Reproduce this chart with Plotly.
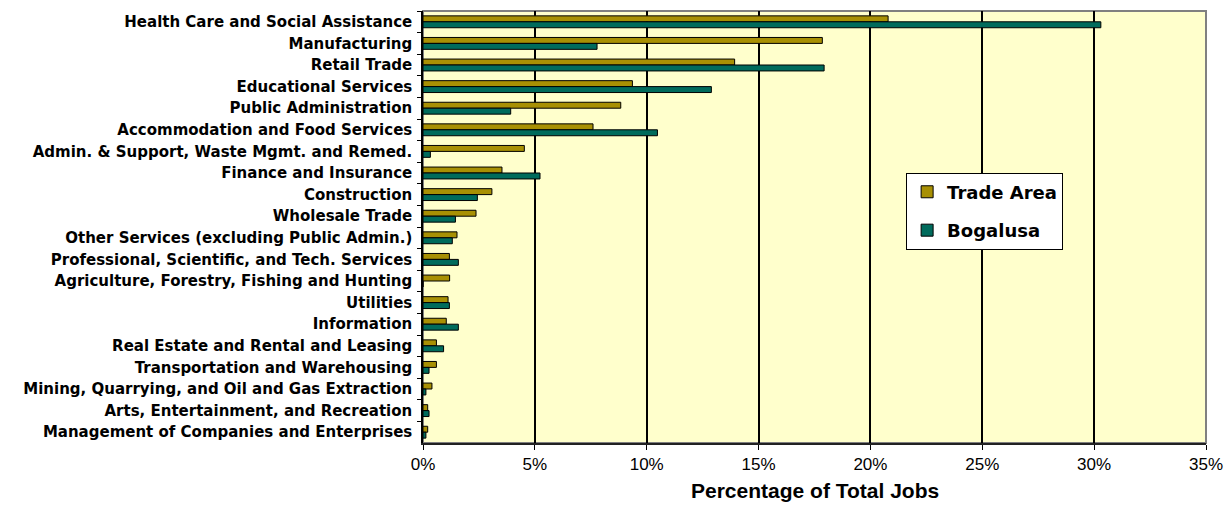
import plotly.graph_objects as go

categories = [
    "Health Care and Social Assistance",
    "Manufacturing",
    "Retail Trade",
    "Educational Services",
    "Public Administration",
    "Accommodation and Food Services",
    "Admin. & Support, Waste Mgmt. and Remed.",
    "Finance and Insurance",
    "Construction",
    "Wholesale Trade",
    "Other Services (excluding Public Admin.)",
    "Professional, Scientific, and Tech. Services",
    "Agriculture, Forestry, Fishing and Hunting",
    "Utilities",
    "Information",
    "Real Estate and Rental and Leasing",
    "Transportation and Warehousing",
    "Mining, Quarrying, and Oil and Gas Extraction",
    "Arts, Entertainment, and Recreation",
    "Management of Companies and Enterprises",
]

trade_area = [0.2079, 0.1785, 0.1393, 0.0936, 0.0884, 0.0760, 0.0453, 0.0353, 0.0308, 0.0237,
              0.0152, 0.0118, 0.0119, 0.0112, 0.0104, 0.0060, 0.0060, 0.0040, 0.0021, 0.0021]
bogalusa = [0.3030, 0.0778, 0.1793, 0.1289, 0.0392, 0.1048, 0.0033, 0.0523, 0.0243, 0.0145,
            0.0131, 0.0158, 0.0, 0.0118, 0.0158, 0.0092, 0.0027, 0.0013, 0.0027, 0.0013]

x_ticks = [0, 0.05, 0.10, 0.15, 0.20, 0.25, 0.30, 0.35]
x_tick_labels = ["0%", "5%", "10%", "15%", "20%", "25%", "30%", "35%"]

fig = go.Figure()
fig.add_trace(go.Bar(
    y=categories, x=trade_area, name="Trade Area", orientation="h",
    marker=dict(color="#A89004", line=dict(color="black", width=1)),
    legendgroup="a",
))
fig.add_trace(go.Bar(
    y=categories, x=bogalusa, name="Bogalusa", orientation="h",
    marker=dict(color="#006B5C", line=dict(color="black", width=1)),
    legendgroup="b",
))

fig.update_layout(
    width=1225, height=506,
    margin=dict(l=423, r=19, t=11, b=63, autoexpand=False),
    paper_bgcolor="white",
    plot_bgcolor="#FFFFCC",
    barmode="group",
    bargap=0.45,
    bargroupgap=0,
    showlegend=True,
    legend=dict(
        x=0.617, y=0.626, xanchor="left", yanchor="top",
        bgcolor="white", bordercolor="black", borderwidth=1,
        font=dict(family="DejaVu Sans", size=18, color="black", weight="bold"),
        traceorder="grouped", tracegroupgap=12,
        itemwidth=30,
    ),
    xaxis=dict(
        range=[0, 0.35],
        tickvals=x_ticks, ticktext=x_tick_labels,
        tickfont=dict(family="Liberation Sans", size=17, color="black"),
        showgrid=True, gridcolor="black", gridwidth=1.5,
        zeroline=False,
        showline=True, linecolor="#222222", linewidth=2, mirror=False,
        ticks="outside", ticklen=5, tickcolor="black", tickwidth=1,
        automargin=False,
    ),
    yaxis=dict(
        autorange="reversed",
        type="category",
        automargin=False,
        tickfont=dict(family="DejaVu Sans", size=15, color="black", weight="bold"),
        showline=True, linecolor="black", linewidth=1.5,
        ticks="outside", ticklen=4, tickcolor="black", tickson="boundaries",
        showgrid=False,
        ticklabelstandoff=6,
    ),
    shapes=[dict(type="rect", xref="paper", yref="paper", x0=0, x1=1, y0=0, y1=1,
                 line=dict(color="#808080", width=2), layer="below")],
    annotations=[dict(
        text="Percentage of Total Jobs", xref="paper", yref="paper",
        x=0.5, y=0, xanchor="center", yanchor="top", yshift=-35,
        showarrow=False, borderpad=0,
        font=dict(family="Liberation Sans", size=21, color="black", weight="bold"),
    )],
)

fig.write_html("out.html")
